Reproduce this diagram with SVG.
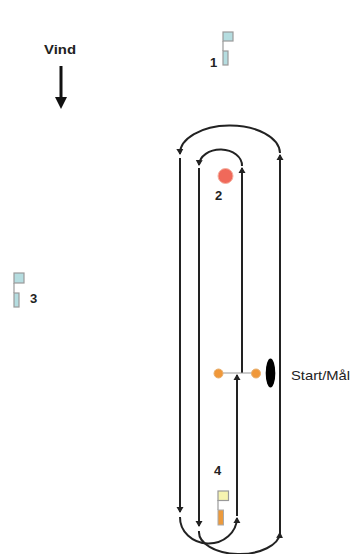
<svg xmlns="http://www.w3.org/2000/svg" width="352" height="554" viewBox="0 0 352 554">
<style>
.c{fill:none;stroke:#222;stroke-width:2}
.t{font-family:"Liberation Sans",Arial,sans-serif;fill:#222}
.b{font-weight:bold;font-size:13px}
.f{fill:#b5dde0;stroke:#9a9a9a;stroke-width:1.2}
.p{fill:none;stroke:#9a9a9a;stroke-width:1.2}
</style>
<defs>
<marker id="a" markerUnits="userSpaceOnUse" markerWidth="8" markerHeight="8" refX="5" refY="4" orient="auto"><path d="M0,0.500L6,4L0,7.500Z" fill="#222"/></marker>
</defs>
<rect width="352" height="554" fill="#fff"/>
<g id="connectors">
<path class="c" marker-end="url(#a)" d="M280,534V155"/>
<path class="c" marker-end="url(#a)" d="M280,153A50,28 0 0 0 180,154"/>
<path class="c" marker-end="url(#a)" d="M180,158V512"/>
<path class="c" marker-end="url(#a)" d="M180,517A28.500,26 0 0 0 237,518"/>
<path class="c" marker-end="url(#a)" d="M237,516V375"/>
<path class="c" marker-end="url(#a)" d="M242,373V168"/>
<path class="c" marker-end="url(#a)" d="M242,166A21.500,16 0 0 0 199,165"/>
<path class="c" marker-end="url(#a)" d="M199,168V526"/>
<path class="c" marker-end="url(#a)" d="M199,531A40.500,22 0 0 0 280,533"/>
<path d="M218,373H256" fill="none" stroke="#999" stroke-width="1.2"/>
</g>
<g id="wind">
<text class="t b" x="60" y="54" text-anchor="middle" textLength="32" lengthAdjust="spacingAndGlyphs">Vind</text>
<path d="M61,66V98" stroke="#111" stroke-width="3" fill="none"/>
<path d="M55,97H67L61,109Z" fill="#111"/>
</g>
<g id="mark1">
<rect class="f" x="223" y="32" width="10" height="9"/>
<path class="p" d="M223,41V51"/>
<rect class="f" x="223" y="51" width="5" height="14"/>
<text class="t b" x="210" y="67">1</text>
</g>
<g id="mark2">
<circle cx="225.500" cy="176" r="7.500" fill="#f0695a" stroke="#f5b0a0"/>
<text class="t b" x="215" y="200">2</text>
</g>
<g id="mark3">
<rect class="f" x="14" y="273" width="10" height="10"/>
<path class="p" d="M14,283V293"/>
<rect class="f" x="14" y="293" width="5" height="14"/>
<text class="t b" x="30" y="303">3</text>
</g>
<g id="mark4">
<text class="t b" x="214" y="475">4</text>
<rect x="218" y="491" width="10.500" height="9.500" fill="#f6f3b0" stroke="#999" stroke-width="1.2"/>
<path class="p" d="M218,500V510"/>
<rect x="218" y="510" width="5.500" height="15" fill="#ec9a3c" stroke="#aaa" stroke-width="1"/>
</g>
<g id="start">
<circle cx="218.500" cy="373.500" r="4.500" fill="#f0983a" stroke="#e8b070"/>
<circle cx="256" cy="373.500" r="4.500" fill="#f0983a" stroke="#e8b070"/>
<ellipse cx="270.500" cy="373" rx="4.800" ry="14.500" fill="#000"/>
<text class="t" x="291" y="380" font-size="13" textLength="59" lengthAdjust="spacingAndGlyphs">Start/Mål</text>
</g>
</svg>
